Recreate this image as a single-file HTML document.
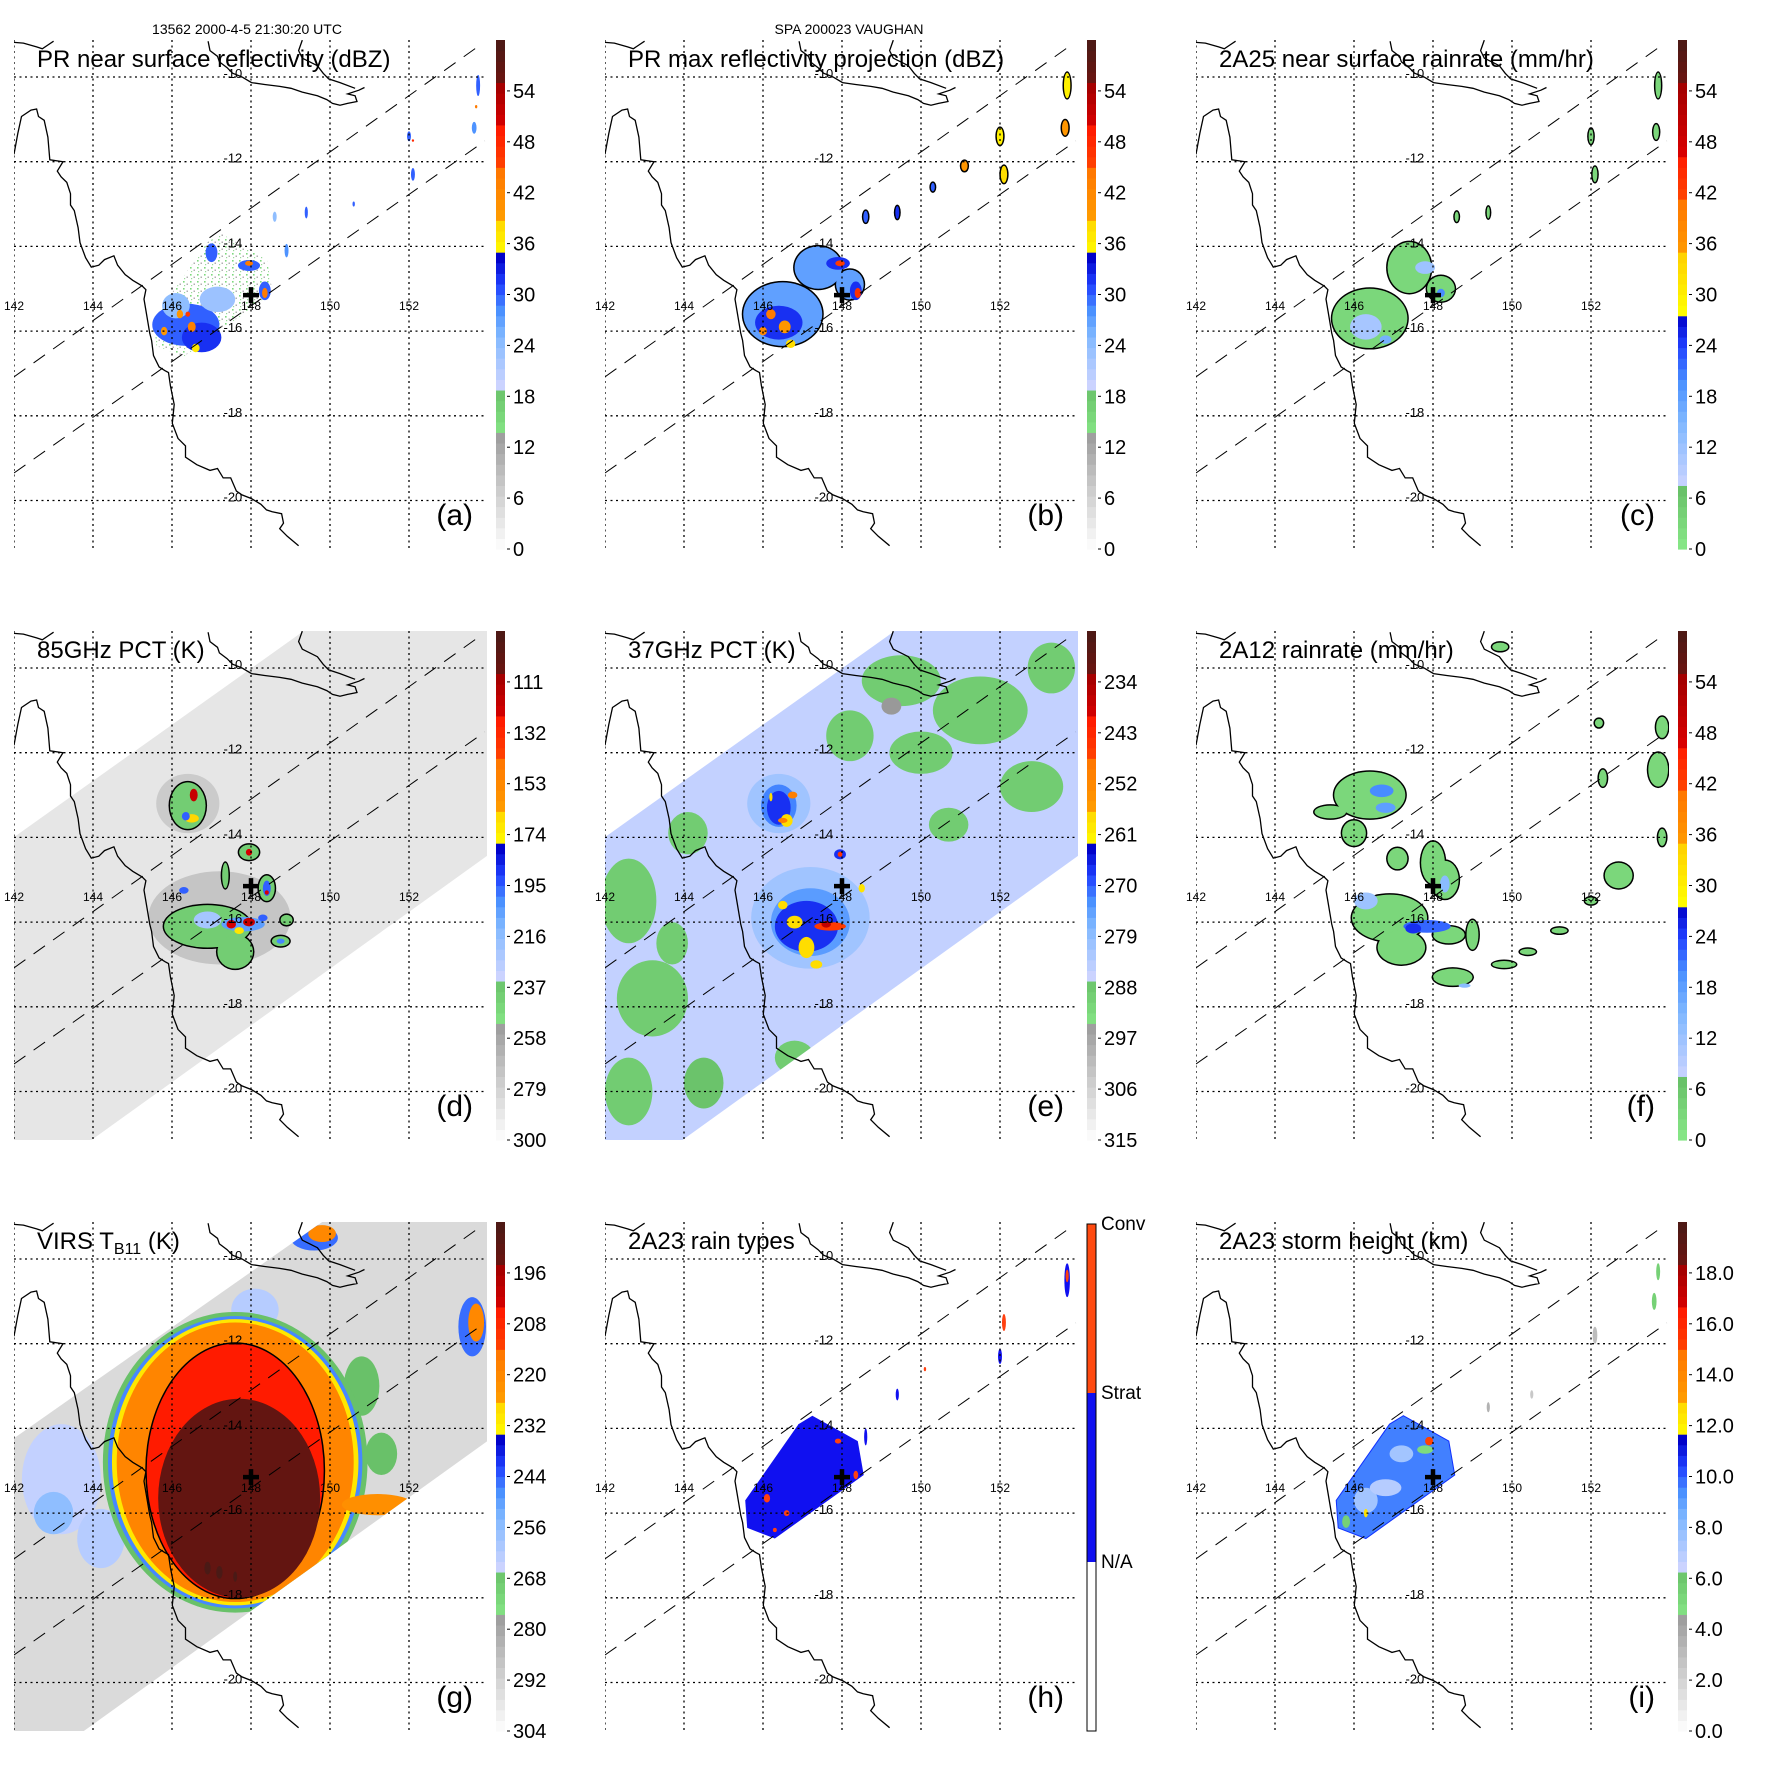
<!DOCTYPE html>
<html><head><meta charset="utf-8"><title>TRMM multi-panel storm overview</title>
<style>
html,body{margin:0;padding:0;background:#fff;}
svg{display:block;font-family:"Liberation Sans",Arial,sans-serif;}
</style></head>
<body>
<svg id="chart" width="1771" height="1771" viewBox="0 0 1771 1771" xmlns="http://www.w3.org/2000/svg">
<rect x="0" y="0" width="1771" height="1771" fill="#fff"/>
<defs>
<pattern id="speckle" width="7" height="7" patternUnits="userSpaceOnUse">
<rect x="1" y="1" width="1.6" height="1.6" fill="#7fd87f"/>
<rect x="4.5" y="3.5" width="1.5" height="1.5" fill="#b0b0b0"/>
<rect x="2" y="5" width="1.2" height="1.2" fill="#9ad89a"/>
</pattern>
</defs>
<text x="247" y="34" font-size="14" text-anchor="middle">13562 2000-4-5 21:30:20 UTC</text>
<text x="849" y="34" font-size="14" text-anchor="middle">SPA 200023 VAUGHAN</text>
</svg>
<script>
// ---------- data ----------
const lonTicks=[142,144,146,148,150,152];
const latTicks=[-10,-12,-14,-16,-18,-20];
const ticksDbz=[0,6,12,18,24,30,36,42,48,54];
const ticksRain=[0,6,12,18,24,30,36,42,48,54];
const ticks85=[111,132,153,174,195,216,237,258,279,300];
const ticks37=[234,243,252,261,270,279,288,297,306,315];
const ticksVirs=[196,208,220,232,244,256,268,280,292,304];
const ticksHeight=[0,2,4,6,8,10,12,14,16,18];
const centerLon=148.0, centerLat=-15.15;
const swathEdgeUpper=[142,-17.08,153.87,-9.20];
const swathEdgeLower=[142,-19.35,153.92,-11.51];
const prRegion=[[145.55,-15.7],[146.9,-13.9],[147.25,-13.7],[148.4,-14.3],[148.55,-15.1],[146.3,-16.6],[145.6,-16.35]];
const tmiSwath=[[140,-15.32],[151,-8.02],[156,-8],[156,-13.08],[141,-23.13],[140,-23.1]];
const virsSwath=[[140,-15.54],[151.6,-7.95],[156,-7.95],[156,-12.95],[141,-23.0],[140,-23.0]];
// blobs: [lon, lat, rxDeg, ryDeg, value, outlineGroup]
const blobsA=[[146.35,-15.85,0.85,0.5,30,0],[146.75,-16.15,0.5,0.35,32,0],[146.1,-15.4,0.35,0.3,24,0],[147.15,-15.25,0.45,0.3,23,0],
[147.0,-14.15,0.15,0.22,30,0],[147.95,-14.45,0.28,0.13,30,0],[148.35,-15.05,0.15,0.22,30,0],[147.95,-14.4,0.1,0.06,44,0],
[148.35,-15.1,0.07,0.12,44,0],[146.2,-15.6,0.08,0.1,40,0],[146.5,-15.9,0.1,0.12,43,0],[146.6,-16.4,0.1,0.1,37,0],[145.8,-16.0,0.08,0.1,40,0],
[146.4,-15.6,0.06,0.06,46,0],[148.6,-13.3,0.05,0.12,24,0],[149.4,-13.2,0.04,0.14,30,0],[148.9,-14.1,0.05,0.16,28,0],[150.6,-13.0,0.03,0.06,30,0],
[152.0,-11.4,0.05,0.12,30,0],[152.1,-11.5,0.03,0.03,48,0],[152.1,-12.3,0.05,0.15,30,0],[153.75,-10.2,0.05,0.25,30,0],[153.65,-11.2,0.06,0.14,28,0],[153.7,-10.7,0.03,0.04,44,0]];
const blobsB=[[146.5,-15.6,1.0,0.75,27,1],[147.4,-14.5,0.6,0.5,27,1],[148.2,-14.9,0.35,0.35,27,1],
[146.4,-15.8,0.6,0.4,32,0],[147.9,-14.4,0.3,0.15,32,0],[148.35,-15.05,0.15,0.22,32,0],[146.2,-15.6,0.12,0.12,44,0],[146.55,-15.9,0.15,0.15,40,0],
[146.7,-16.3,0.12,0.1,38,0],[147.95,-14.4,0.12,0.07,46,0],[148.4,-15.1,0.08,0.12,47,0],[146.0,-16.0,0.1,0.1,42,0],
[148.6,-13.3,0.06,0.14,30,2],[149.4,-13.2,0.05,0.15,32,3],[150.3,-12.6,0.05,0.1,30,4],[151.1,-12.1,0.08,0.12,40,5],[152.0,-11.4,0.08,0.2,36,6],
[152.1,-12.3,0.08,0.2,38,7],[153.7,-10.2,0.08,0.3,36,8],[153.65,-11.2,0.08,0.18,40,9]];
const blobsC=[[146.4,-15.7,0.95,0.7,3,1],[147.4,-14.5,0.55,0.6,3,1],[148.2,-15.0,0.35,0.3,3,1],
[146.3,-15.9,0.4,0.3,11,0],[147.8,-14.5,0.25,0.15,12,0],[148.2,-15.1,0.1,0.1,20,0],[146.8,-16.2,0.15,0.1,16,0],
[148.6,-13.3,0.05,0.12,3,2],[149.4,-13.2,0.04,0.14,3,3],[152.0,-11.4,0.06,0.18,3,4],[152.1,-12.3,0.06,0.18,3,5],[153.7,-10.2,0.07,0.3,3,6],[153.65,-11.3,0.07,0.18,3,7]];
const blobsD=[[147.2,-15.9,1.8,1.1,272,0],[146.4,-13.2,0.8,0.7,275,0],
[146.4,-13.25,0.45,0.55,240,1],[146.9,-16.1,1.1,0.5,240,1],[147.6,-16.7,0.45,0.4,240,1],[147.35,-14.9,0.08,0.3,240,1],
[147.95,-14.35,0.25,0.18,240,2],[148.4,-15.2,0.2,0.3,240,3],[148.75,-16.45,0.22,0.12,240,4],[148.9,-15.95,0.15,0.12,240,1],
[146.9,-15.95,0.35,0.2,222,0],[147.8,-16.05,0.55,0.17,205,0],[147.5,-16.05,0.12,0.1,125,0],[147.95,-16.0,0.15,0.1,120,0],[147.7,-16.2,0.12,0.08,170,0],
[148.3,-15.9,0.12,0.08,195,0],[146.3,-15.25,0.12,0.08,195,0],[146.55,-13.0,0.1,0.15,120,0],[146.5,-13.55,0.18,0.1,165,0],[146.35,-13.5,0.1,0.1,195,0],
[147.95,-14.35,0.08,0.08,125,0],[148.4,-15.2,0.1,0.18,195,0],[148.4,-15.3,0.05,0.05,125,0],[148.75,-16.45,0.1,0.06,200,0]];
const blobsE=[[149.5,-10.3,1.0,0.6,289,0],[151.5,-11.0,1.2,0.8,289,0],[152.8,-12.8,0.8,0.6,289,0],[150.0,-12.0,0.8,0.5,289,0],[148.2,-11.6,0.6,0.6,289,0],
[153.3,-10.0,0.6,0.6,289,0],[150.7,-13.7,0.5,0.4,289,0],[142.6,-15.5,0.7,1.0,289,0],[143.2,-17.8,0.9,0.9,289,0],[142.6,-20.0,0.6,0.8,289,0],
[144.1,-13.9,0.5,0.5,289,0],[143.7,-16.5,0.4,0.5,289,0],[146.8,-19.2,0.5,0.4,289,0],[144.5,-19.8,0.5,0.6,287,0],
[147.2,-15.9,1.5,1.2,281,0],[146.4,-13.2,0.8,0.7,281,0],[147.2,-16.0,1.0,0.8,274,0],[146.4,-13.25,0.45,0.5,272,0],
[147.1,-16.1,0.8,0.6,267,0],[146.4,-13.3,0.3,0.4,267,0],[147.95,-14.4,0.15,0.12,267,0],
[146.5,-15.6,0.12,0.1,258,0],[146.8,-16.0,0.2,0.15,258,0],[147.1,-16.6,0.2,0.25,258,0],[147.35,-17.0,0.15,0.1,258,0],[146.6,-13.6,0.15,0.15,258,0],[146.2,-13.05,0.04,0.1,258,0],
[147.7,-16.1,0.4,0.1,246,0],[147.6,-16.05,0.12,0.08,237,0],[146.75,-13.0,0.12,0.08,250,0],[146.5,-13.6,0.12,0.06,250,0],[147.95,-14.4,0.06,0.06,245,0],
[148.5,-15.2,0.08,0.1,259,0],[149.25,-10.9,0.25,0.2,294,0]];
const blobsF=[[146.4,-13.0,0.9,0.55,3,1],[145.4,-13.4,0.4,0.15,3,1],[146.0,-13.9,0.3,0.3,3,1],[147.1,-14.5,0.25,0.25,3,2],
[148.0,-14.6,0.3,0.5,3,3],[148.3,-15.0,0.35,0.45,3,3],[146.9,-15.9,0.95,0.55,3,3],[147.2,-16.6,0.6,0.4,3,3],[148.4,-16.3,0.4,0.2,3,3],
[148.5,-17.3,0.5,0.2,3,3],[149.0,-16.3,0.15,0.35,3,4],[149.8,-17.0,0.3,0.08,3,5],[150.4,-16.7,0.2,0.07,3,6],[151.2,-16.2,0.2,0.07,3,7],
[152.0,-15.5,0.15,0.08,3,8],[152.7,-14.9,0.35,0.3,3,9],[153.7,-12.4,0.25,0.4,3,10],[153.8,-11.4,0.15,0.25,3,11],[152.3,-12.6,0.1,0.2,3,12],
[152.2,-11.3,0.1,0.1,3,13],[149.7,-9.5,0.2,0.1,3,14],[153.8,-14.0,0.1,0.2,3,15],
[146.7,-12.9,0.3,0.15,20,0],[146.8,-13.3,0.25,0.12,18,0],[147.85,-16.1,0.6,0.15,22,0],[147.5,-16.15,0.2,0.12,25,0],
[146.3,-15.5,0.3,0.2,12,0],[148.3,-15.1,0.12,0.2,14,0],[148.8,-17.5,0.15,0.05,14,0]];
const blobsG=[[143.2,-15.2,1.0,1.3,264,0],[144.2,-16.6,0.6,0.7,262,0],[144.8,-14.0,0.4,0.5,250,0],[143.0,-16.0,0.5,0.5,256,0],[148.1,-11.2,0.6,0.5,262,0],
[150.8,-13.0,0.45,0.7,266,0],[151.3,-14.6,0.4,0.5,266,0],[147.6,-14.8,3.35,3.55,266,0],[147.6,-14.8,3.22,3.45,247,0],
[147.6,-14.8,3.12,3.38,230,0],[147.6,-14.8,3.0,3.3,219,0],[147.6,-15.0,2.24,3.0,205,1],[147.7,-15.65,2.05,2.35,192,0],
[146.9,-17.3,0.08,0.15,180,0],[147.2,-17.4,0.08,0.15,180,0],[147.6,-17.5,0.05,0.12,180,0],
[153.6,-11.6,0.35,0.7,245,0],[153.7,-11.5,0.2,0.45,220,0],[149.6,-9.5,0.6,0.3,245,0],[149.8,-9.4,0.35,0.2,220,0],[151.2,-15.8,0.9,0.25,222,0]];
const blobsH=[[149.4,-13.2,0.04,0.14,1],[148.6,-14.2,0.04,0.2,1],[150.1,-12.6,0.03,0.05,2],[152.1,-11.5,0.05,0.2,2],[152.0,-12.3,0.05,0.18,1],
[153.7,-10.5,0.07,0.4,1],[153.7,-10.4,0.04,0.15,2],[146.1,-15.65,0.08,0.1,2],[146.6,-16.0,0.07,0.07,2],[147.9,-14.3,0.08,0.06,2],[148.35,-15.1,0.06,0.1,2],[146.3,-16.4,0.05,0.05,2]];
const blobsI=[[146.3,-15.7,0.3,0.3,7.5,0],[147.2,-14.6,0.3,0.2,7.5,0],[146.8,-15.4,0.4,0.2,7.0,0],[147.9,-14.3,0.1,0.1,15,0],[146.3,-16.0,0.05,0.1,12.5,0],
[145.8,-16.2,0.1,0.15,5.5,0],[147.8,-14.5,0.2,0.1,5,0],[153.7,-10.3,0.05,0.2,5.5,0],[152.1,-11.8,0.06,0.2,3,0],[153.6,-11.0,0.06,0.2,5.5,0],
[150.5,-13.2,0.04,0.1,2.5,0],[149.4,-13.5,0.04,0.12,3.5,0]];
const coastMain=[35,385,45,330,55,285,80,268,95,265,100,285,115,295,125,340,130,400,165,405,150,430,160,445,175,460,185,490,185,520,195,535,205,580,210,620,225,660,240,685,260,680,275,665,300,655,310,680,330,705,350,720,375,735,385,745,380,770,385,800,390,830,395,860,400,880,405,920,420,950,435,960,445,965,450,1000,460,1050,455,1100,470,1140,490,1160,490,1190,520,1210,555,1225,575,1220,590,1245,610,1245,625,1280,640,1290,665,1300,690,1315,705,1330,720,1335,745,1340,750,1365,740,1380,760,1400,790,1425];
const coastGulf=[35,88,60,90,95,100,110,105,125,95,140,85];
const coastPNG1=[550,85,555,110,575,125,580,140,600,155,615,170,640,180,665,195,700,200,740,205,770,210,800,220,840,230,865,240,880,250,900,255,920,250,945,245,940,230,920,225,950,215,965,208];
const coastPNG2=[800,82,790,110,800,130,820,140,840,150,855,170,870,185,900,195,940,210];

const cmapA=[[0,'#ffffff'],[0.235,'#989898'],[0.236,'#82e082'],[0.32,'#68c068'],[0.321,'#ccd4ff'],[0.42,'#80b8ff'],[0.47,'#4a90ff'],[0.52,'#2040ff'],[0.575,'#0000c8'],[0.576,'#ffff00'],[0.655,'#ffd000'],[0.656,'#ff9a00'],[0.74,'#ff7800'],[0.741,'#ff4800'],[0.83,'#ff1800'],[0.831,'#d80000'],[0.915,'#a00000'],[0.916,'#6a1410'],[1,'#4a1a16']];
const cmapR=[[0,'#88e888'],[0.12,'#68c068'],[0.121,'#ccd4ff'],[0.25,'#80b8ff'],[0.33,'#4a90ff'],[0.40,'#2040ff'],[0.46,'#0000c8'],[0.461,'#ffff00'],[0.58,'#ffd000'],[0.581,'#ff9a00'],[0.68,'#ff7800'],[0.681,'#ff4800'],[0.78,'#ff1800'],[0.781,'#d80000'],[0.915,'#a00000'],[0.916,'#6a1410'],[1,'#4a1a16']];
function hex2rgb(h){return [parseInt(h.substr(1,2),16),parseInt(h.substr(3,2),16),parseInt(h.substr(5,2),16)];}
function cmapColor(cm,t){t=Math.max(0,Math.min(1,t));
 for(let i=1;i<cm.length;i++){if(t<=cm[i][0]){const a=cm[i-1],b=cm[i];const f=(b[0]-a[0])>0?(t-a[0])/(b[0]-a[0]):0;
  const ca=hex2rgb(a[1]),cb=hex2rgb(b[1]);return 'rgb('+ca.map((v,k)=>Math.round(v+(cb[k]-v)*f)).join(',')+')';}}
 return cm[cm.length-1][1];}

const panels=[
 {id:'a',col:0,row:0,title:'PR near surface reflectivity (dBZ)',cm:cmapA,vmin:0,vmax:60,rev:false,ticks:ticksDbz,dec:0,blobs:blobsA,region:'speckle'},
 {id:'b',col:1,row:0,title:'PR max reflectivity projection (dBZ)',cm:cmapA,vmin:0,vmax:60,rev:false,ticks:ticksDbz,dec:0,blobs:blobsB,region:null},
 {id:'c',col:2,row:0,title:'2A25 near surface rainrate (mm/hr)',cm:cmapR,vmin:0,vmax:60,rev:false,ticks:ticksRain,dec:0,blobs:blobsC,region:null},
 {id:'d',col:0,row:1,title:'85GHz PCT (K)',cm:cmapA,vmin:90,vmax:300,rev:true,ticks:ticks85,dec:0,blobs:blobsD,swath:tmiSwath,swathVal:288},
 {id:'e',col:1,row:1,title:'37GHz PCT (K)',cm:cmapA,vmin:225,vmax:315,rev:true,ticks:ticks37,dec:0,blobs:blobsE,swath:tmiSwath,swathVal:285},
 {id:'f',col:2,row:1,title:'2A12 rainrate (mm/hr)',cm:cmapR,vmin:0,vmax:60,rev:false,ticks:ticksRain,dec:0,blobs:blobsF},
 {id:'g',col:0,row:2,title:'VIRS',cm:cmapA,vmin:184,vmax:304,rev:true,ticks:ticksVirs,dec:0,blobs:blobsG,swath:virsSwath,swathVal:294},
 {id:'h',col:1,row:2,title:'2A23 rain types',blobs:[],cat:true},
 {id:'i',col:2,row:2,title:'2A23 storm height (km)',cm:cmapA,vmin:0,vmax:20,rev:false,ticks:ticksHeight,dec:1,blobs:blobsI,regionVal:9.6}
];
const NS='http://www.w3.org/2000/svg';
const svg=document.getElementById('chart');
function mk(tag,attrs,parent){const e=document.createElementNS(NS,tag);for(const k in attrs)e.setAttribute(k,attrs[k]);parent.appendChild(e);return e;}
const PW=473,PH=509,DLON=39.5,DLAT=42.35;
function colorOf(p,v){const t=p.rev?(p.vmax-v)/(p.vmax-p.vmin):(v-p.vmin)/(p.vmax-p.vmin);return cmapColor(p.cm,t);}
function tOf(p,v){return p.rev?(p.vmax-v)/(p.vmax-p.vmin):(v-p.vmin)/(p.vmax-p.vmin);}

panels.forEach(p=>{
 const x0=14+591*p.col, y0=40+591*p.row;
 const X=lon=>x0+(lon-142)*DLON;
 const Y=lat=>y0+37+(-10-lat)*DLAT;
 const cz=(zx,zy)=>[X(142+(zx-35)/104.8),Y(-10-(zy-180)/112.5)];
 const g=mk('g',{},svg);
 
 
 const defs=mk('defs',{},g);
 const cp=mk('clipPath',{id:'clip-'+p.id},defs);
 mk('rect',{x:x0,y:y0,width:PW,height:PH},cp);
 const map=mk('g',{'clip-path':'url(#clip-'+p.id+')'},g);
 
 
 let dataLayer=map;
 if(p.swath){
  const pts=p.swath.map(q=>X(q[0])+','+Y(q[1])).join(' ');
  const sw=mk('polygon',{points:pts,fill:colorOf(p,p.swathVal)},map);
  
  
  const scp=mk('clipPath',{id:'sclip-'+p.id},defs);
  mk('polygon',{points:pts},scp);
  dataLayer=mk('g',{'clip-path':'url(#sclip-'+p.id+')'},map);
 }
 const regPts=prRegion.map(q=>X(q[0])+','+Y(q[1])).join(' ');
 if(p.region==='speckle'){
  const r=mk('polygon',{points:regPts,fill:'url(#speckle)'},dataLayer);
  
  
 }
 if(p.regionVal!==undefined){
  const r=mk('polygon',{points:regPts,fill:colorOf(p,p.regionVal),stroke:'#1030ff','stroke-width':1},dataLayer);
  
  
 }
 if(p.cat){
  const r=mk('polygon',{points:regPts,fill:'#1010f0'},dataLayer);
  
  
  blobsH.forEach(b=>{
   const e=mk('ellipse',{cx:X(b[0]),cy:Y(b[1]),rx:b[2]*DLON,ry:b[3]*DLAT,fill:b[4]===2?'#ff4010':'#1010f0'},dataLayer);
   
   
  });
 }
 let i=0;const bl=p.blobs;
 while(i<bl.length){
  const grp=bl[i][5];
  if(!grp){
   const b=bl[i];
   const e=mk('ellipse',{cx:X(b[0]),cy:Y(b[1]),rx:b[2]*DLON,ry:b[3]*DLAT,fill:colorOf(p,b[4])},dataLayer);
   
   
   i++;continue;
  }
  let j=i;while(j<bl.length&&bl[j][5]===grp)j++;
  for(let k=i;k<j;k++){const b=bl[k];
   const e=mk('ellipse',{cx:X(b[0]),cy:Y(b[1]),rx:b[2]*DLON+1.5,ry:b[3]*DLAT+1.5,fill:'#000'},dataLayer);
   
   }
  for(let k=i;k<j;k++){const b=bl[k];
   const e=mk('ellipse',{cx:X(b[0]),cy:Y(b[1]),rx:b[2]*DLON,ry:b[3]*DLAT,fill:colorOf(p,b[4])},dataLayer);
   
   }
  i=j;
 }
 lonTicks.forEach(lon=>{
  const l=mk('line',{x1:X(lon),y1:y0,x2:X(lon),y2:y0+PH,stroke:'#000','stroke-width':1.3,'stroke-dasharray':'2,3.5'},map);
  
  
 });
 latTicks.forEach(lat=>{
  const l=mk('line',{x1:x0,y1:Y(lat),x2:x0+PW,y2:Y(lat),stroke:'#000','stroke-width':1.3,'stroke-dasharray':'2,3.5'},map);
  
  
 });
 [swathEdgeUpper,swathEdgeLower].forEach((s,k)=>{
  const l=mk('line',{x1:X(s[0]),y1:Y(s[1]),x2:X(s[2]),y2:Y(s[3]),stroke:'#000','stroke-width':1,'stroke-dasharray':'14,10'},map);
  
  
 });
 [coastMain,coastGulf,coastPNG1,coastPNG2].forEach(c=>{
  const pts=[];for(let m=0;m<c.length;m+=2){const q=cz(c[m],c[m+1]);pts.push(q[0].toFixed(1)+','+q[1].toFixed(1));}
  const l=mk('polyline',{points:pts.join(' '),fill:'none',stroke:'#000','stroke-width':1.3},map);
  
  
 });
 lonTicks.forEach(lon=>{
  const t=mk('text',{x:X(lon),y:y0+270,'font-size':12,'text-anchor':'middle'},g);
  t.textContent=String(lon);
  
  
 });
 latTicks.forEach(lat=>{
  const t=mk('text',{x:X(147.78),y:Y(lat)+1,'font-size':13,'text-anchor':'end'},g);
  t.textContent=String(lat);
  
  
 });
 const cx=X(centerLon),cy=Y(centerLat);
 const cr=mk('path',{d:`M${cx-8},${cy}H${cx+8}M${cx},${cy-8}V${cy+8}`,stroke:'#000','stroke-width':4.5},g);
 
 
 const tt=mk('text',{x:x0+23,y:y0+27,'font-size':24},g);
 
 
 if(p.id==='g'){tt.textContent='VIRS T';const s=mk('tspan',{'font-size':16,dy:5},tt);s.textContent='B11';const s2=mk('tspan',{dy:-5},tt);s2.textContent=' (K)';}
 else tt.textContent=p.title;
 const lt=mk('text',{x:x0+459,y:y0+485,'font-size':30,'text-anchor':'end'},g);
 lt.textContent='('+p.id+')';
 
 
 const cb=mk('g',{},g);
 
 
 const bx=x0+482,bw=9;
 if(p.cat){
  const by=y0+2,bh=PH-2,h3=bh/3;
  [['#ff4a10',0],['#1010f0',1],['#ffffff',2]].forEach(s=>{mk('rect',{x:bx,y:by+h3*s[1],width:bw,height:h3,fill:s[0]},cb);});
  mk('rect',{x:bx,y:by,width:bw,height:bh,fill:'none',stroke:'#000','stroke-width':1},cb);
  ['Conv','Strat','N/A'].forEach((s,k)=>{const t=mk('text',{x:bx+14,y:by+h3*k+6,'font-size':19},cb);t.textContent=s;
   
   });
 } else {
  const N=48;
  for(let k=0;k<N;k++){const t=(k+0.5)/N;
   mk('rect',{x:bx,y:y0+PH*(1-(k+1)/N),width:bw,height:PH/N+0.6,fill:cmapColor(p.cm,t)},cb);}
  p.ticks.forEach(v=>{const yy=y0+PH*(1-tOf(p,v));
   mk('line',{x1:bx+bw+2,y1:yy,x2:bx+bw+5,y2:yy,stroke:'#000','stroke-width':1},cb);
   const t=mk('text',{x:bx+17,y:yy+7,'font-size':20},cb);
   t.textContent=p.dec?v.toFixed(p.dec):String(v);
   
   });
 }
});
</script>
</body></html>
